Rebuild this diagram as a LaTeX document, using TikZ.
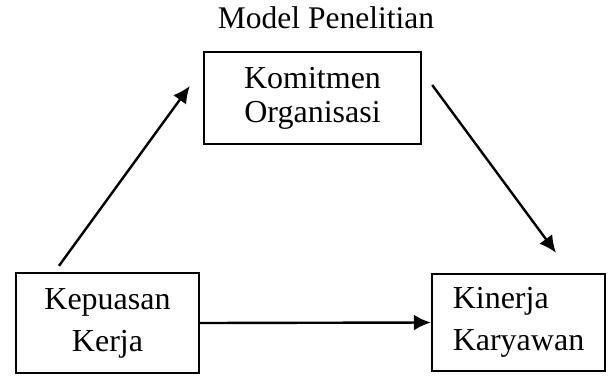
\documentclass[tikz,border=0pt]{standalone}
\usepackage{fontspec}
\setmainfont{Liberation Serif}
\usetikzlibrary{arrows.meta}

\begin{document}
\begin{tikzpicture}[x=1pt,y=-1pt,
  kotak/.style={draw,line width=2.4pt,inner sep=0pt},
  panah/.style={line width=2.4pt,-{Latex[length=17pt,width=16pt]}}]
\useasboundingbox (0,0) rectangle (610,376);
\node (judul) at (326,28) [anchor=base,font=\fontsize{31.5}{34}\selectfont] {Model Penelitian};
\node (kom) at (312.5,98) [kotak,minimum width=217pt,minimum height=92pt,align=center,font=\fontsize{32}{34}\selectfont] {Komitmen\\Organisasi};
\node (kep) at (107.5,323) [kotak,minimum width=183pt,minimum height=100pt,align=center,font=\fontsize{32}{42}\selectfont] {Kepuasan\\Kerja};
\node (kin) at (518.5,322.5) [kotak,minimum width=173pt,minimum height=97pt,align=left,font=\fontsize{32}{42}\selectfont] {Kinerja\\Karyawan};
\draw [panah] ([xshift=-48.5pt,yshift=6pt]kep.north) -- ([xshift=-13pt,yshift=12pt]kom.west);
\draw [panah] ([xshift=10pt,yshift=13pt]kom.east) -- ([xshift=37.5pt,yshift=20pt]kin.north);
\draw [panah] (kep.east) -- (kin.west);
\end{tikzpicture}
\end{document}
